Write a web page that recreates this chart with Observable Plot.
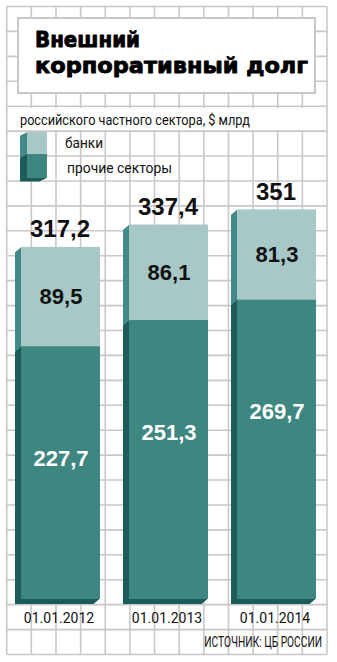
<!DOCTYPE html>
<html>
<head>
<meta charset="utf-8">
<script src="https://cdn.jsdelivr.net/npm/d3@7"></script>
<script src="https://cdn.jsdelivr.net/npm/@observablehq/plot@0.6"></script>
<style>
html, body { margin: 0; padding: 0; background: #fff; }
#wrap { position: relative; width: 337px; height: 662px; overflow: hidden; }
#bg, #chart { position: absolute; left: 0; top: 0; }
</style>
</head>
<body>
<div id="wrap">
  <svg id="bg" width="337" height="662"></svg>
  <div id="chart"></div>
</div>
<script>
// ---- data ----
const dates = ["01.01.2012", "01.01.2013", "01.01.2014"];
const banks = [89.5, 86.1, 81.3];
const others = [227.7, 251.3, 269.7];
const totals = [317.2, 337.4, 351];
const seriesNames = ["банки", "прочие секторы"];
const titleLines = ["Внешний", "корпоративный долг"];
const subtitle = "российского частного сектора, $ млрд";
const source = "ИСТОЧНИК: ЦБ РОССИИ";

const fmt = v => String(v).replace(".", ",");
const rows = dates.map((d, i) => ({date: d, bank: banks[i], other: others[i], total: totals[i]}));

const C = {
  lightFront: "#a7c8c6",
  darkFront: "#3e8680",
  lightSide: "#42898a",
  darkSide: "#1d5c58",
  grid: "#c8c8c8"
};

// ---- background: grid, title box, subtitle, legend, source ----
const bg = d3.select("#bg");
const gx0 = 6.7, gx1 = 327, gy0 = 6.5, gy1 = 654.5;
const vxs = d3.range(14).map(j => gx0 + j * (gx1 - gx0) / 13);
const hys = d3.range(27).map(k => gy0 + k * (gy1 - gy0) / 26);
bg.append("g").selectAll("line.v").data(vxs).join("line")
  .attr("x1", d => d).attr("x2", d => d).attr("y1", gy0).attr("y2", gy1)
  .attr("stroke", C.grid).attr("stroke-width", 1.6);
bg.append("g").selectAll("line.h").data(hys).join("line")
  .attr("y1", d => d).attr("y2", d => d).attr("x1", gx0).attr("x2", gx1)
  .attr("stroke", C.grid).attr("stroke-width", 1.6);

// title box
bg.append("rect").attr("x", 18).attr("y", 18).attr("width", 297).attr("height", 75)
  .attr("fill", "#fff").attr("stroke", C.grid).attr("stroke-width", 2);
const titleG = bg.append("g").attr("font-family", "'DejaVu Sans', sans-serif")
  .attr("font-weight", "bold").attr("font-size", 22).attr("fill", "#000")
  .attr("stroke", "#000").attr("stroke-width", 0.9).attr("stroke-linejoin", "round");
titleG.append("text").attr("x", 35).attr("y", 47).attr("textLength", 105)
  .attr("lengthAdjust", "spacingAndGlyphs").text(titleLines[0]);
titleG.append("text").attr("x", 35).attr("y", 73).attr("textLength", 273)
  .attr("lengthAdjust", "spacingAndGlyphs").text(titleLines[1]);

// subtitle band
bg.append("rect").attr("x", 8).attr("y", 108).attr("width", 318).attr("height", 22).attr("fill", "#fff");
bg.append("text").attr("x", 20).attr("y", 125).attr("font-family", "Roboto, sans-serif")
  .attr("font-size", 14).attr("fill", "#111").attr("textLength", 230)
  .attr("lengthAdjust", "spacingAndGlyphs").text(subtitle);

// legend (3D swatch)
const lg = bg.append("g");
const sw = [
  {name: seriesNames[0], y: 132, h: 22, front: C.lightFront, side: C.lightSide},
  {name: seriesNames[1], y: 154, h: 24, front: C.darkFront, side: C.darkSide}
];
for (let k = 7; k >= 1; k--) {
  for (const s of sw) {
    lg.append("rect").attr("x", 27 - k).attr("y", s.y + k * 0.5).attr("width", 20).attr("height", s.h)
      .attr("fill", s.side);
  }
}
for (const s of sw) {
  lg.append("rect").attr("x", 27).attr("y", s.y).attr("width", 20).attr("height", s.h).attr("fill", s.front);
}
lg.append("text").attr("x", 65).attr("y", 148).attr("font-family", "Roboto, sans-serif")
  .attr("font-size", 14).attr("fill", "#111").attr("textLength", 38)
  .attr("lengthAdjust", "spacingAndGlyphs").text(sw[0].name);
lg.append("text").attr("x", 67).attr("y", 173).attr("font-family", "Roboto, sans-serif")
  .attr("font-size", 14).attr("fill", "#111").attr("textLength", 105)
  .attr("lengthAdjust", "spacingAndGlyphs").text(sw[1].name);

// source (condensed via horizontal scale)
bg.append("g").attr("transform", "translate(322,647) scale(0.73,1)")
  .append("text").attr("x", 0).attr("y", 0).attr("text-anchor", "end")
  .attr("font-family", "Roboto, sans-serif").attr("font-size", 14).attr("fill", "#111")
  .text(source);

// ---- chart ----
const marks = [];
for (let k = 6; k >= 1; k--) {
  marks.push(Plot.barY(rows, {x: "date", y1: 0, y2: "other", fill: C.darkSide, dx: -k, dy: k * 5 / 6}));
  marks.push(Plot.barY(rows, {x: "date", y1: "other", y2: "total", fill: C.lightSide, dx: -k, dy: k * 5 / 6}));
}
marks.push(Plot.barY(rows, {x: "date", y1: 0, y2: "other", fill: C.darkFront}));
marks.push(Plot.barY(rows, {x: "date", y1: "other", y2: "total", fill: C.lightFront}));
marks.push(Plot.text(rows, {
  x: "date", y: "total", text: d => fmt(d.total), lineAnchor: "bottom", dy: -10, dx: -1,
  fontSize: 24, fontWeight: "bold", fill: "#111", fontFamily: "'Liberation Sans', Arial, sans-serif"
}));
marks.push(Plot.text(rows, {
  x: "date", y: d => d.other + d.bank / 2, text: d => fmt(d.bank),
  fontSize: 22, fontWeight: "bold", fill: "#111", fontFamily: "'Liberation Sans', Arial, sans-serif"
}));
marks.push(Plot.text(rows, {
  x: "date", y: "other", dy: 112, text: d => fmt(d.other),
  fontSize: 22, fontWeight: "bold", fill: "#fff", fontFamily: "'Liberation Sans', Arial, sans-serif"
}));
marks.push(Plot.text(rows, {
  x: "date", text: "date", frameAnchor: "bottom", lineAnchor: "top", dy: 14, dx: -2,
  fontSize: 14, fill: "#111", fontFamily: "Roboto, sans-serif"
}));

const chart = Plot.plot({
  width: 337,
  height: 662,
  marginTop: 155,
  marginBottom: 63,
  marginLeft: 0,
  marginRight: 0,
  style: {background: "transparent", overflow: "visible"},
  x: {domain: dates, range: [20.5, 316.5], paddingInner: 0.272, paddingOuter: 0, axis: null},
  y: {domain: [0, 400], axis: null},
  marks
});
document.getElementById("chart").appendChild(chart);
</script>
</body>
</html>
